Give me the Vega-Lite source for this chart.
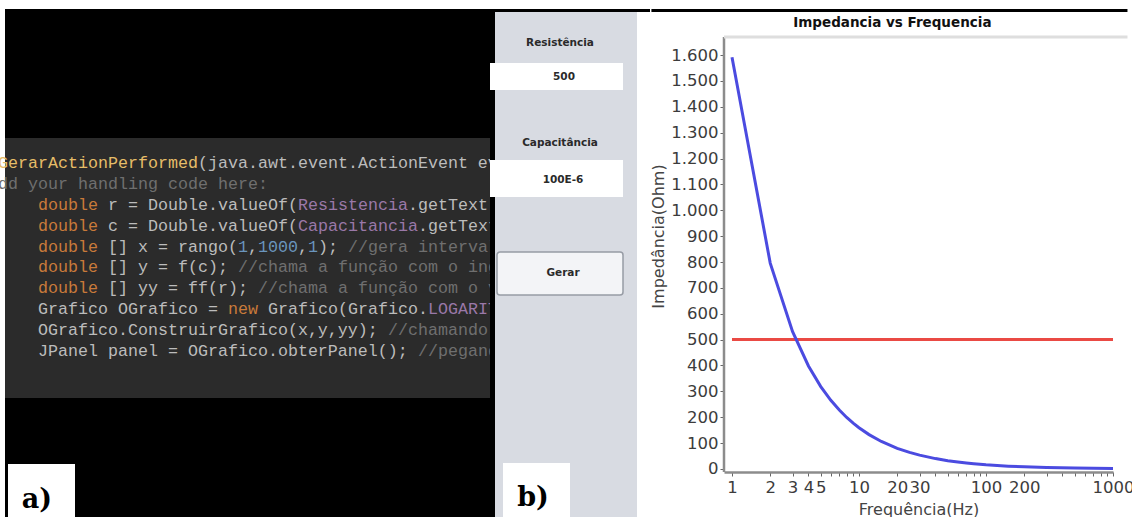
{
  "$schema": "https://vega.github.io/schema/vega-lite/v6.json",
  "background": "white",
  "padding": 0,
  "spacing": 0,
  "config": {
    "view": {"stroke": null},
    "concat": {"spacing": 0},
    "axisX": {
      "labelFlush": false,
      "labelOverlap": false,
      "labelFont": "DejaVu Sans",
      "labelFontSize": 16.5,
      "labelColor": "#3c3c3c",
      "labelPadding": 3,
      "tickSize": 4,
      "tickColor": "#666666",
      "domainColor": "#8c8c8c",
      "domainWidth": 2.5,
      "grid": false,
      "titleFont": "DejaVu Sans",
      "titleFontSize": 16,
      "titleFontWeight": "normal",
      "titleColor": "#444444",
      "titlePadding": 6
    },
    "axisY": {
      "labelOverlap": false,
      "labelFont": "DejaVu Sans",
      "labelFontSize": 16.5,
      "labelColor": "#3c3c3c",
      "labelPadding": 2,
      "tickSize": 4,
      "tickColor": "#666666",
      "domain": false,
      "grid": false,
      "titleFont": "DejaVu Sans",
      "titleFontSize": 16,
      "titleFontWeight": "normal",
      "titleColor": "#444444",
      "titlePadding": 4
    }
  },
  "datasets": {
    "codigo": [
      {"linha": 0, "col": 0, "txt": "GerarActionPerformed", "tipo": "metodo"},
      {"linha": 0, "col": 20, "txt": "(java.awt.event.ActionEvent evt) {", "tipo": "texto"},
      {"linha": 1, "col": 0, "txt": "dd your handling code here:", "tipo": "comentario"},
      {"linha": 2, "col": 4, "txt": "double", "tipo": "palavra"},
      {"linha": 2, "col": 11, "txt": "r = Double.valueOf(", "tipo": "texto"},
      {"linha": 2, "col": 30, "txt": "Resistencia", "tipo": "campo"},
      {"linha": 2, "col": 41, "txt": ".getText());", "tipo": "texto"},
      {"linha": 3, "col": 4, "txt": "double", "tipo": "palavra"},
      {"linha": 3, "col": 11, "txt": "c = Double.valueOf(", "tipo": "texto"},
      {"linha": 3, "col": 30, "txt": "Capacitancia", "tipo": "campo"},
      {"linha": 3, "col": 42, "txt": ".getText());", "tipo": "texto"},
      {"linha": 4, "col": 4, "txt": "double", "tipo": "palavra"},
      {"linha": 4, "col": 11, "txt": "[] x = rango(", "tipo": "texto"},
      {"linha": 4, "col": 24, "txt": "1", "tipo": "numero"},
      {"linha": 4, "col": 25, "txt": ",", "tipo": "texto"},
      {"linha": 4, "col": 26, "txt": "1000", "tipo": "numero"},
      {"linha": 4, "col": 30, "txt": ",", "tipo": "texto"},
      {"linha": 4, "col": 31, "txt": "1", "tipo": "numero"},
      {"linha": 4, "col": 32, "txt": ");", "tipo": "texto"},
      {"linha": 4, "col": 35, "txt": "//gera intervalo", "tipo": "comentario"},
      {"linha": 5, "col": 4, "txt": "double", "tipo": "palavra"},
      {"linha": 5, "col": 11, "txt": "[] y = f(c);", "tipo": "texto"},
      {"linha": 5, "col": 24, "txt": "//chama a função com o ingresso", "tipo": "comentario"},
      {"linha": 6, "col": 4, "txt": "double", "tipo": "palavra"},
      {"linha": 6, "col": 11, "txt": "[] yy = ff(r);", "tipo": "texto"},
      {"linha": 6, "col": 26, "txt": "//chama a função com o valor", "tipo": "comentario"},
      {"linha": 7, "col": 4, "txt": "Grafico OGrafico =", "tipo": "texto"},
      {"linha": 7, "col": 23, "txt": "new", "tipo": "palavra"},
      {"linha": 7, "col": 27, "txt": "Grafico(Grafico.", "tipo": "texto"},
      {"linha": 7, "col": 43, "txt": "LOGARITMICO", "tipo": "campo"},
      {"linha": 8, "col": 4, "txt": "OGrafico.ConstruirGrafico(x,y,yy);", "tipo": "texto"},
      {"linha": 8, "col": 39, "txt": "//chamando o método", "tipo": "comentario"},
      {"linha": 9, "col": 4, "txt": "JPanel panel = OGrafico.obterPanel();", "tipo": "texto"},
      {"linha": 9, "col": 42, "txt": "//pegando o painel", "tipo": "comentario"}
    ],
    "blocosCodigo": [
      {"bloco": "fundo", "c1": 0.7, "c2": 49.2, "l1": -7.368, "l2": 16.94},
      {"bloco": "editor", "c1": 0.7, "c2": 49.2, "l1": -1.196, "l2": 11.24},
      {"bloco": "rotulo", "c1": 1.0, "c2": 7.7, "l1": 14.4, "l2": 16.94}
    ],
    "formulario": [
      {"peca": "faixa", "x1": 0, "x2": 160, "y1": 9, "y2": 12},
      {"peca": "borda", "x1": 0, "x2": 5, "y1": 9, "y2": 517},
      {"peca": "painel", "x1": 5, "x2": 147, "y1": 12, "y2": 517},
      {"peca": "campo", "x1": 0, "x2": 133, "y1": 63, "y2": 90},
      {"peca": "campo", "x1": 0, "x2": 133, "y1": 160, "y2": 197},
      {"peca": "rotulo", "x1": 13, "x2": 80, "y1": 463, "y2": 517}
    ],
    "botao": [
      {"peca": "Gerar", "x1": 7, "x2": 133, "y1": 252, "y2": 295}
    ],
    "textosFormulario": [
      {"texto": "Resistência", "x": 70, "y": 43},
      {"texto": "500", "x": 74, "y": 77},
      {"texto": "Capacitância", "x": 70, "y": 143},
      {"texto": "100E-6", "x": 73, "y": 180},
      {"texto": "Gerar", "x": 73, "y": 273}
    ],
    "faixaGrafico": [
      {"f1": 0.232, "f2": 1300, "z1": 1766.8, "z2": 1778.4}
    ],
    "eixos": [
      {"f1": 0.865, "f2": 0.865, "z1": -12, "z2": 1670, "traco": "eixo"},
      {"f1": 0.865, "f2": 1300, "z1": 1670, "z2": 1670, "traco": "borda"}
    ],
    "curvas": [
      {"f": 1, "z": 500, "serie": "Resistência"},
      {"f": 1000, "z": 500, "serie": "Resistência"},
      {"f": 1, "z": 1591.5, "serie": "Impedância"},
      {"f": 2, "z": 795.8, "serie": "Impedância"},
      {"f": 3, "z": 530.5, "serie": "Impedância"},
      {"f": 4, "z": 397.9, "serie": "Impedância"},
      {"f": 5, "z": 318.3, "serie": "Impedância"},
      {"f": 6, "z": 265.3, "serie": "Impedância"},
      {"f": 7, "z": 227.4, "serie": "Impedância"},
      {"f": 8, "z": 198.9, "serie": "Impedância"},
      {"f": 9, "z": 176.8, "serie": "Impedância"},
      {"f": 10, "z": 159.2, "serie": "Impedância"},
      {"f": 12, "z": 132.6, "serie": "Impedância"},
      {"f": 15, "z": 106.1, "serie": "Impedância"},
      {"f": 20, "z": 79.6, "serie": "Impedância"},
      {"f": 25, "z": 63.7, "serie": "Impedância"},
      {"f": 30, "z": 53.1, "serie": "Impedância"},
      {"f": 40, "z": 39.8, "serie": "Impedância"},
      {"f": 50, "z": 31.8, "serie": "Impedância"},
      {"f": 60, "z": 26.5, "serie": "Impedância"},
      {"f": 70, "z": 22.7, "serie": "Impedância"},
      {"f": 80, "z": 19.9, "serie": "Impedância"},
      {"f": 100, "z": 15.9, "serie": "Impedância"},
      {"f": 150, "z": 10.6, "serie": "Impedância"},
      {"f": 200, "z": 8.0, "serie": "Impedância"},
      {"f": 300, "z": 5.3, "serie": "Impedância"},
      {"f": 500, "z": 3.2, "serie": "Impedância"},
      {"f": 700, "z": 2.3, "serie": "Impedância"},
      {"f": 1000, "z": 1.6, "serie": "Impedância"}
    ]
  },
  "resolve": {"scale": {"color": "independent"}},
  "hconcat": [
    {
      "width": 490,
      "height": 517,
      "resolve": {"scale": {"color": "independent"}},
      "layer": [
        {
          "data": {"name": "blocosCodigo"},
          "mark": {"type": "rect"},
          "encoding": {
            "x": {"field": "c1", "type": "quantitative", "scale": {"domain": [0.2, 49.2], "nice": false, "zero": false}, "axis": null},
            "x2": {"field": "c2"},
            "y": {"field": "l1", "type": "quantitative", "scale": {"domain": [-7.799, 16.94], "nice": false, "zero": false, "reverse": true}, "axis": null},
            "y2": {"field": "l2"},
            "color": {"field": "bloco", "type": "nominal", "scale": {"domain": ["fundo", "editor", "rotulo"], "range": ["#000000", "#2b2b2b", "#ffffff"]}, "legend": null}
          }
        },
        {
          "data": {"name": "codigo"},
          "mark": {"type": "text", "align": "left", "baseline": "middle", "font": "Liberation Mono", "fontSize": 16.66, "clip": true},
          "encoding": {
            "x": {"field": "col", "type": "quantitative", "scale": {"domain": [0.2, 49.2], "nice": false, "zero": false}, "axis": null},
            "y": {"field": "linha", "type": "quantitative", "scale": {"domain": [-7.799, 16.94], "nice": false, "zero": false, "reverse": true}, "axis": null},
            "text": {"field": "txt"},
            "color": {"field": "tipo", "type": "nominal", "scale": {"domain": ["metodo", "texto", "comentario", "palavra", "campo", "numero"], "range": ["#e6bd68", "#bcbcbc", "#6f6f6f", "#c97a3a", "#9a78a8", "#6a95bd"]}, "legend": null}
          }
        },
        {
          "data": {"values": [{"rotulo": "a)", "col": 3.9, "linha": 16.12}]},
          "mark": {"type": "text", "align": "center", "baseline": "middle", "font": "DejaVu Serif", "fontWeight": "bold", "fontSize": 27, "color": "black"},
          "encoding": {
            "x": {"field": "col", "type": "quantitative", "scale": {"domain": [0.2, 49.2], "nice": false, "zero": false}, "axis": null},
            "y": {"field": "linha", "type": "quantitative", "scale": {"domain": [-7.799, 16.94], "nice": false, "zero": false, "reverse": true}, "axis": null},
            "text": {"field": "rotulo"}
          }
        }
      ]
    },
    {
      "width": 160,
      "height": 517,
      "resolve": {"scale": {"color": "independent"}},
      "layer": [
        {
          "data": {"name": "formulario"},
          "mark": {"type": "rect"},
          "encoding": {
            "x": {"field": "x1", "type": "quantitative", "scale": {"domain": [0, 160], "nice": false, "zero": false}, "axis": null},
            "x2": {"field": "x2"},
            "y": {"field": "y1", "type": "quantitative", "scale": {"domain": [0, 517], "nice": false, "zero": false, "reverse": true}, "axis": null},
            "y2": {"field": "y2"},
            "color": {"field": "peca", "type": "nominal", "scale": {"domain": ["faixa", "borda", "painel", "campo", "rotulo"], "range": ["#000000", "#000000", "#d8dbe2", "#ffffff", "#ffffff"]}, "legend": null}
          }
        },
        {
          "data": {"name": "botao"},
          "mark": {"type": "rect", "fill": "#f3f4f7", "stroke": "#979ca5", "strokeWidth": 1.5, "cornerRadius": 3},
          "encoding": {
            "x": {"field": "x1", "type": "quantitative", "scale": {"domain": [0, 160], "nice": false, "zero": false}, "axis": null},
            "x2": {"field": "x2"},
            "y": {"field": "y1", "type": "quantitative", "scale": {"domain": [0, 517], "nice": false, "zero": false, "reverse": true}, "axis": null},
            "y2": {"field": "y2"}
          }
        },
        {
          "data": {"name": "textosFormulario"},
          "mark": {"type": "text", "align": "center", "baseline": "middle", "font": "DejaVu Sans", "fontWeight": "bold", "fontSize": 10.5, "color": "#2a2a2a"},
          "encoding": {
            "x": {"field": "x", "type": "quantitative", "scale": {"domain": [0, 160], "nice": false, "zero": false}, "axis": null},
            "y": {"field": "y", "type": "quantitative", "scale": {"domain": [0, 517], "nice": false, "zero": false, "reverse": true}, "axis": null},
            "text": {"field": "texto"}
          }
        },
        {
          "data": {"values": [{"rotulo": "b)", "x": 43, "y": 498}]},
          "mark": {"type": "text", "align": "center", "baseline": "middle", "font": "DejaVu Serif", "fontWeight": "bold", "fontSize": 27, "color": "black"},
          "encoding": {
            "x": {"field": "x", "type": "quantitative", "scale": {"domain": [0, 160], "nice": false, "zero": false}, "axis": null},
            "y": {"field": "y", "type": "quantitative", "scale": {"domain": [0, 517], "nice": false, "zero": false, "reverse": true}, "axis": null},
            "text": {"field": "rotulo"}
          }
        }
      ]
    },
    {
      "width": 389,
      "height": 472,
      "title": {"text": "Impedancia vs Frequencia", "font": "DejaVu Sans", "fontSize": 13.5, "fontWeight": "bold", "color": "#111111", "frame": "bounds", "anchor": "middle", "offset": -29},
      "resolve": {"scale": {"color": "independent", "size": "independent"}},
      "layer": [
        {
          "data": {"name": "curvas"},
          "mark": {"type": "line", "strokeWidth": 3},
          "encoding": {
            "x": {
              "field": "f",
              "type": "quantitative",
              "scale": {"type": "log", "domain": [0.865, 1000], "nice": false, "zero": false},
              "axis": {
                "values": [1, 2, 3, 4, 5, 6, 7, 8, 9, 10, 20, 30, 40, 50, 60, 70, 80, 90, 100, 200, 300, 400, 500, 600, 700, 800, 900, 1000],
                "labelExpr": "indexof([1, 2, 3, 4, 5, 10, 20, 30, 100, 200, 1000], datum.value) >= 0 ? format(datum.value, 'd') : ''",
                "title": "Frequência(Hz)"
              }
            },
            "y": {
              "field": "z",
              "type": "quantitative",
              "scale": {"domain": [-12, 1813.2], "nice": false, "zero": false},
              "axis": {
                "values": [0, 100, 200, 300, 400, 500, 600, 700, 800, 900, 1000, 1100, 1200, 1300, 1400, 1500, 1600],
                "labelExpr": "replace(format(datum.value, ','), ',', '.')",
                "title": "Impedância(Ohm)"
              }
            },
            "color": {"field": "serie", "type": "nominal", "scale": {"domain": ["Resistência", "Impedância"], "range": ["#ea4a44", "#4b4be0"]}, "legend": null}
          }
        },
        {
          "data": {"name": "faixaGrafico"},
          "mark": {"type": "rect", "color": "black", "clip": false},
          "encoding": {
            "x": {
              "field": "f1",
              "type": "quantitative",
              "scale": {"type": "log", "domain": [0.865, 1000], "nice": false, "zero": false},
              "axis": {
                "values": [1, 2, 3, 4, 5, 6, 7, 8, 9, 10, 20, 30, 40, 50, 60, 70, 80, 90, 100, 200, 300, 400, 500, 600, 700, 800, 900, 1000],
                "labelExpr": "indexof([1, 2, 3, 4, 5, 10, 20, 30, 100, 200, 1000], datum.value) >= 0 ? format(datum.value, 'd') : ''",
                "title": "Frequência(Hz)"
              }
            },
            "x2": {"field": "f2"},
            "y": {
              "field": "z1",
              "type": "quantitative",
              "scale": {"domain": [-12, 1813.2], "nice": false, "zero": false},
              "axis": {
                "values": [0, 100, 200, 300, 400, 500, 600, 700, 800, 900, 1000, 1100, 1200, 1300, 1400, 1500, 1600],
                "labelExpr": "replace(format(datum.value, ','), ',', '.')",
                "title": "Impedância(Ohm)"
              }
            },
            "y2": {"field": "z2"}
          }
        },
        {
          "data": {"name": "eixos"},
          "mark": {"type": "rule", "clip": false},
          "encoding": {
            "x": {
              "field": "f1",
              "type": "quantitative",
              "scale": {"type": "log", "domain": [0.865, 1000], "nice": false, "zero": false},
              "axis": {
                "values": [1, 2, 3, 4, 5, 6, 7, 8, 9, 10, 20, 30, 40, 50, 60, 70, 80, 90, 100, 200, 300, 400, 500, 600, 700, 800, 900, 1000],
                "labelExpr": "indexof([1, 2, 3, 4, 5, 10, 20, 30, 100, 200, 1000], datum.value) >= 0 ? format(datum.value, 'd') : ''",
                "title": "Frequência(Hz)"
              }
            },
            "x2": {"field": "f2"},
            "y": {
              "field": "z1",
              "type": "quantitative",
              "scale": {"domain": [-12, 1813.2], "nice": false, "zero": false},
              "axis": {
                "values": [0, 100, 200, 300, 400, 500, 600, 700, 800, 900, 1000, 1100, 1200, 1300, 1400, 1500, 1600],
                "labelExpr": "replace(format(datum.value, ','), ',', '.')",
                "title": "Impedância(Ohm)"
              }
            },
            "y2": {"field": "z2"},
            "color": {"field": "traco", "type": "nominal", "scale": {"domain": ["eixo", "borda"], "range": ["#8c8c8c", "#dedede"]}, "legend": null},
            "size": {"field": "traco", "type": "nominal", "scale": {"domain": ["eixo", "borda"], "range": [2.5, 3]}, "legend": null}
          }
        }
      ]
    }
  ]
}
